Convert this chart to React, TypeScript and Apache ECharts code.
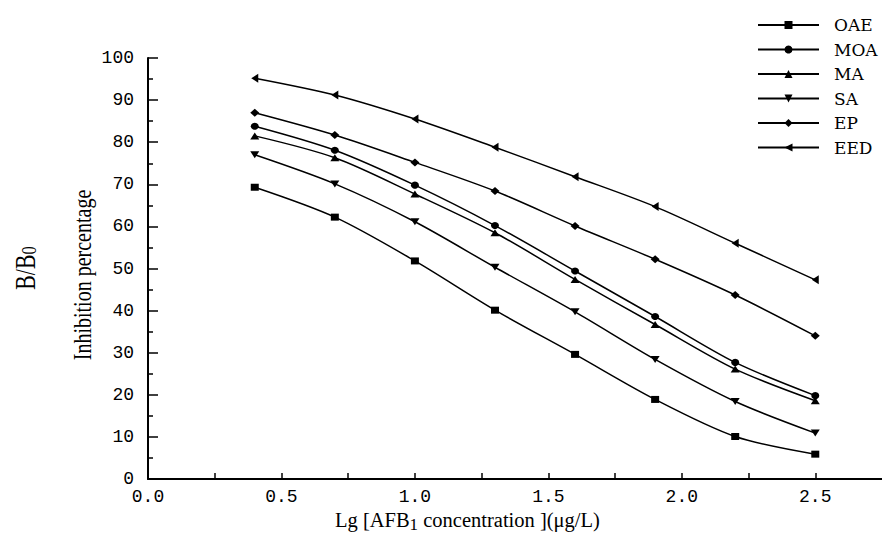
import React, { useEffect, useRef } from "react";
import * as echarts from "echarts";

const xValues = [0.4, 0.7, 1.0, 1.3, 1.6, 1.9, 2.2, 2.5];
const seriesNames = ["OAE", "MOA", "MA", "SA", "EP", "EED"];
const OAE = [69.3, 62.2, 51.8, 40.1, 29.6, 18.9, 10.1, 5.9];
const MOA = [83.8, 78.1, 69.8, 60.2, 49.4, 38.6, 27.7, 19.8];
const MA = [81.5, 76.3, 67.7, 58.5, 47.4, 36.7, 26.1, 18.6];
const SA = [77.0, 70.1, 61.1, 50.3, 39.7, 28.4, 18.4, 10.9];
const EP = [87.0, 81.7, 75.2, 68.4, 60.1, 52.2, 43.7, 34.0];
const EED = [95.2, 91.2, 85.5, 78.8, 71.8, 64.7, 56.0, 47.3];
const seriesValues = [OAE, MOA, MA, SA, EP, EED];

const symbols = ["rect", "circle", "triangle", "triangle", "diamond", "triangle"];
const symbolRotates = [0, 0, 0, 180, 0, 90];
const symbolSizes: any[] = [[8, 7], [8, 7], [9, 7], [9, 7], [9, 8], [9, 7]];

export default function App() {
  const ref = useRef<HTMLDivElement>(null);
  useEffect(() => {
    document.body.style.margin = "0";
    const chart = echarts.init(ref.current!, null, { renderer: "svg" });
    const tickFont = "Liberation Mono";
    const option: any = {
      animation: false,
      backgroundColor: "#ffffff",
      grid: { left: 148, top: 58, bottom: 57, right: 0, containLabel: false },
      legend: {
        orient: "vertical",
        left: 757,
        top: 15,
        padding: 0,
        itemWidth: 61,
        itemHeight: 10,
        itemGap: 4.5,
        data: seriesNames,
        textStyle: { fontFamily: "DejaVu Serif", fontSize: 17, color: "#000", lineHeight: 20, padding: [0, 0, 0, 10] },
      },
      xAxis: {
        type: "value",
        min: 0,
        max: 2.75,
        interval: 0.25,
        axisLine: { show: true, onZero: false, lineStyle: { color: "#000", width: 2 } },
        axisTick: { show: true, inside: true, length: 6, lineStyle: { color: "#000", width: 1.5 } },
        splitLine: { show: false },
        axisLabel: {
          margin: 9,
          fontFamily: tickFont,
          fontSize: 18,
          color: "#000",
          showMaxLabel: false,
          formatter: (v: number) => (Math.abs(v * 2 - Math.round(v * 2)) < 1e-6 ? v.toFixed(1) : ""),
        },
      },
      yAxis: {
        type: "value",
        min: 0,
        max: 100,
        interval: 10,
        axisLine: { show: true, lineStyle: { color: "#000", width: 2 } },
        axisTick: { show: true, inside: true, length: 10, lineStyle: { color: "#000", width: 1.5 } },
        minorTick: { show: true, splitNumber: 2, length: 5, lineStyle: { color: "#000", width: 1.5 } },
        splitLine: { show: false },
        axisLabel: { margin: 14, fontFamily: tickFont, fontSize: 18, color: "#000" },
      },
      graphic: [
        {
          type: "text",
          x: 82,
          y: 275,
          rotation: Math.PI / 2,
          scaleX: 0.77,
          style: {
            text: "Inhibition percentage",
            fontFamily: "Liberation Serif",
            fontSize: 26,
            fill: "#000",
            align: "center",
            verticalAlign: "middle",
          },
        },
        {
          type: "text",
          x: 25,
          y: 268,
          rotation: Math.PI / 2,
          scaleX: 0.75,
          style: {
            text: "{a|B/B}{s|0}",
            align: "center",
            verticalAlign: "middle",
            rich: {
              a: { fontFamily: "Liberation Serif", fontSize: 29, lineHeight: 30, fill: "#000" },
              s: { fontFamily: "Liberation Serif", fontSize: 22, lineHeight: 22, fill: "#000", verticalAlign: "bottom" },
            },
          },
        },
        {
          type: "text",
          x: 335,
          y: 520,
          style: {
            text: "{a|Lg [AFB}{s|1}{a| concentration ](μg/L)}",
            align: "left",
            verticalAlign: "middle",
            rich: {
              a: { fontFamily: "Liberation Serif", fontSize: 20.5, lineHeight: 22, fill: "#000" },
              s: { fontFamily: "Liberation Serif", fontSize: 17, lineHeight: 17, padding: [9, 0, 0, 0], fill: "#000" },
            },
          },
        },
      ],
      series: seriesNames.map((name, i) => ({
        name,
        type: "line",
        smooth: 0.3,
        symbol: symbols[i],
        symbolRotate: symbolRotates[i],
        symbolSize: symbolSizes[i],
        showAllSymbol: true,
        data: xValues.map((x, j) => [x, seriesValues[i][j]]),
        lineStyle: { color: "#000", width: 1.5 },
        itemStyle: { color: "#000" },
      })),
    };
    chart.setOption(option);
    return () => chart.dispose();
  }, []);
  return <div ref={ref} style={{ position: "fixed", left: 0, top: 0, width: 882, height: 536 }} />;
}
